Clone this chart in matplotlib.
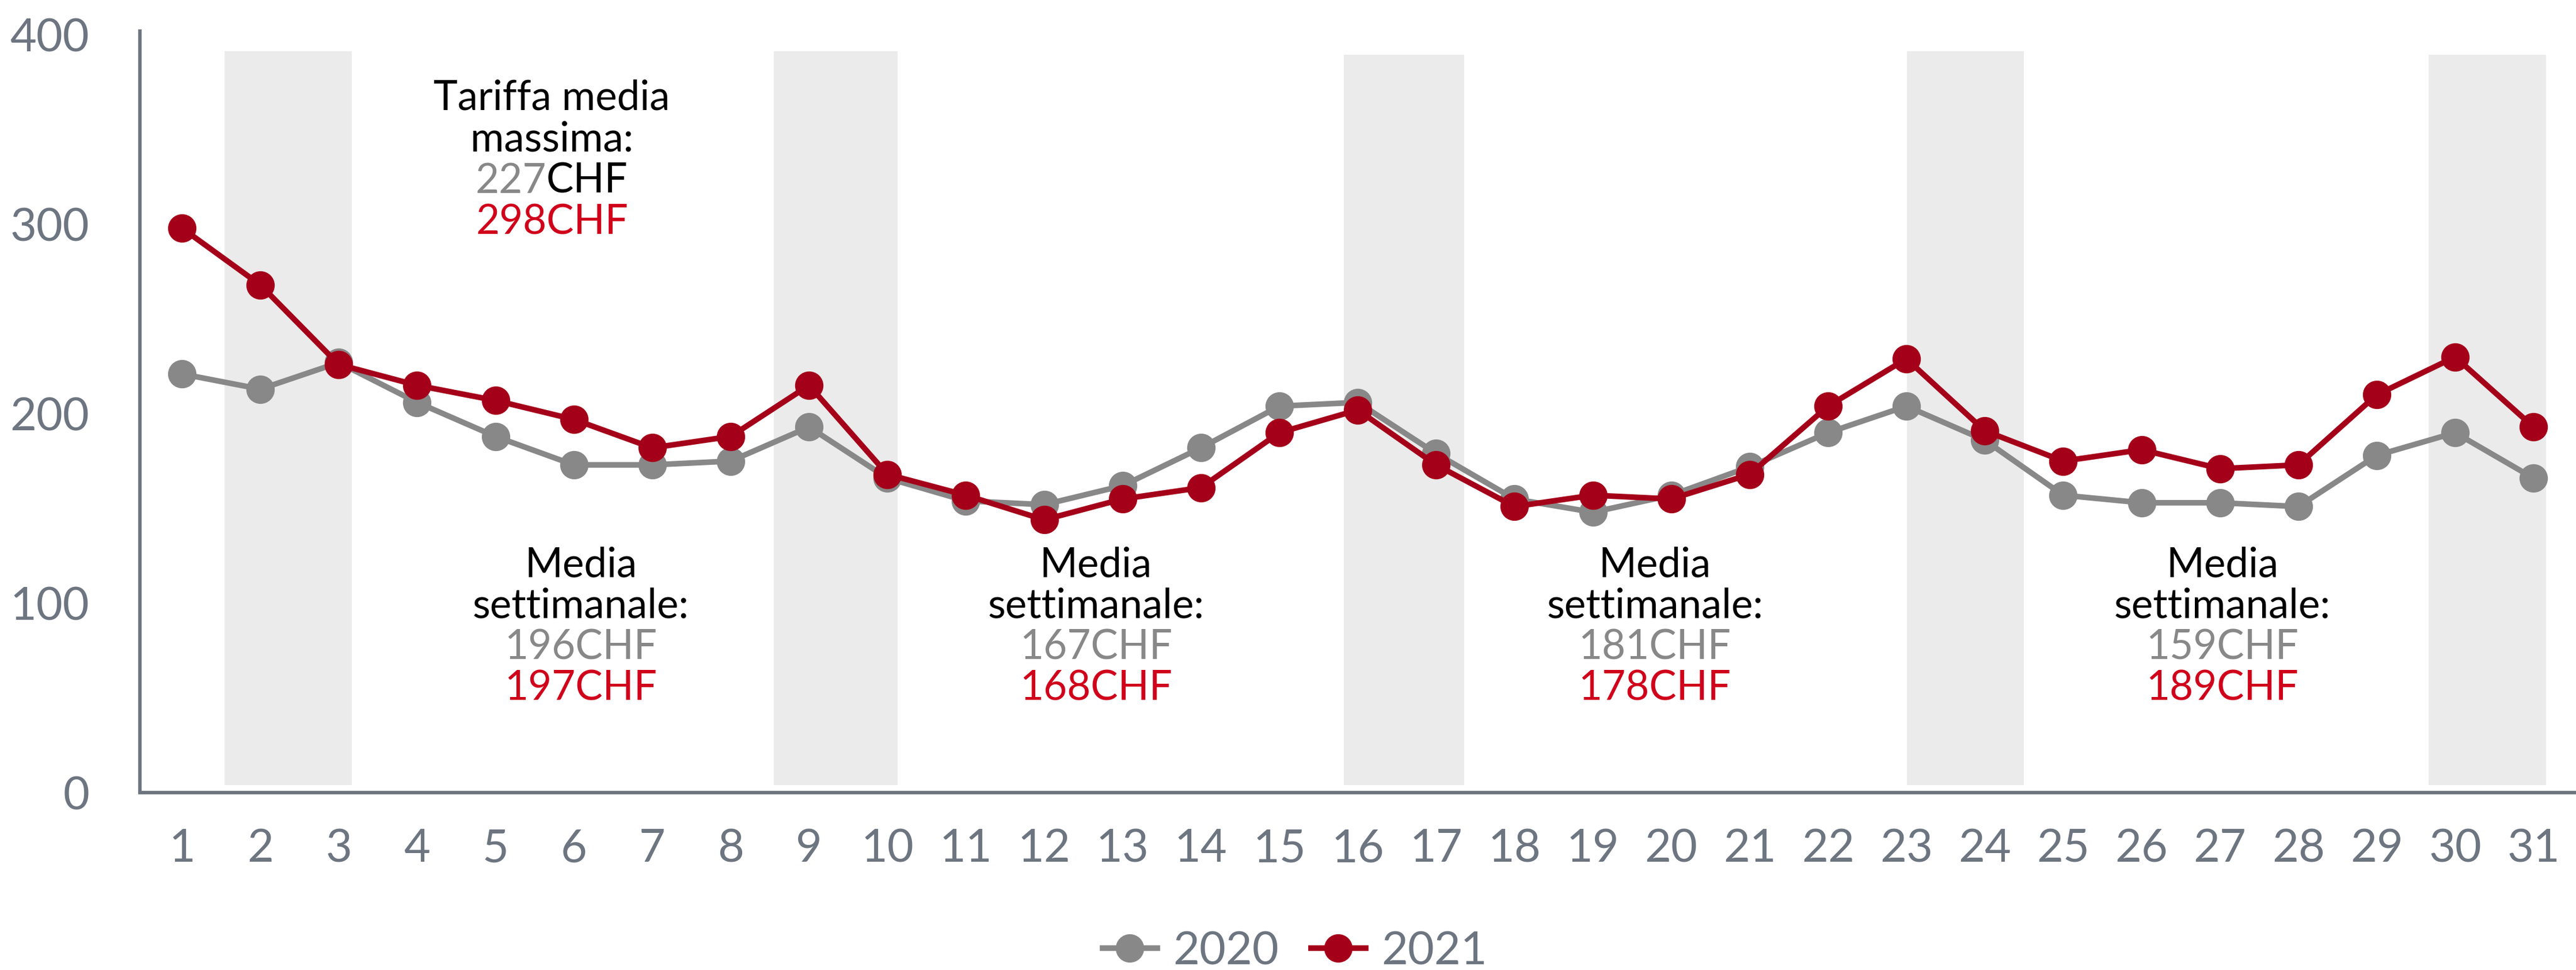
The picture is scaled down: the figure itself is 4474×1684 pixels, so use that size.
import matplotlib.pyplot as plt

plt.rcParams['font.family'] = ['Lato', 'DejaVu Sans']

# dati: tariffa media giornaliera (CHF)
days = list(range(1, 32))
tariffe_2020 = [221, 213, 227, 206, 188, 173, 173, 175, 193, 166, 154, 152, 162, 182, 204, 206,
                179, 155, 148, 157, 172, 190, 204, 186, 157, 153, 153, 151, 178, 190, 166]
tariffe_2021 = [298, 268, 226, 215, 207, 197, 182, 188, 215, 168, 157, 144, 155, 161, 190, 202,
                173, 151, 157, 155, 168, 204, 229, 191, 175, 181, 171, 173, 210, 230, 193]

# fasce weekend
weekend_start = [1.54, 8.55, 15.82, 23.01, 29.66]
weekend_end = [3.17, 10.13, 17.36, 24.50, 31.16]
weekend_top = [391.5, 391.5, 389.6, 391.5, 389.6]

# medie settimanali
medie_x = [6.09, 12.66, 19.79, 27.03]
medie_2020 = ["196", "167", "181", "159"]
medie_2021 = ["197", "168", "178", "189"]
max_2020 = "227"
max_2021 = "298"

GRAY = '#888888'
RED = '#A50019'
RED_TXT = '#D0021B'
AXIS = '#6D7580'

fig = plt.figure(figsize=(44.74, 16.84), dpi=100)
ax = fig.add_axes([242.5 / 4474, 1 - 1376 / 1684, (4471 - 242.5) / 4474, (1376 - 54) / 1684])

centers = [(s + e) / 2 for s, e in zip(weekend_start, weekend_end)]
widths = [e - s for s, e in zip(weekend_start, weekend_end)]
heights = [t - 4 for t in weekend_top]
ax.bar(centers, heights, width=widths, bottom=4, color='#EBEBEB', zorder=0)

ax.plot(days, tariffe_2020, color=GRAY, lw=7, marker='o', ms=34.5, label='2020', zorder=3)
ax.plot(days, tariffe_2021, color=RED, lw=7, marker='o', ms=34.5, label='2021', zorder=4)

ax.set_xlim(0.46, 31.52)
ax.set_ylim(0, 402)
ax.set_xticks(days)
ax.set_yticks([0, 100, 200, 300, 400])
ax.tick_params(axis='x', length=0, pad=45, labelsize=57, labelcolor=AXIS)
ax.tick_params(axis='y', length=0, pad=63, labelsize=57, labelcolor=AXIS)
for side in ['top', 'right']:
    ax.spines[side].set_visible(False)
for side in ['left', 'bottom']:
    ax.spines[side].set_color(AXIS)
    ax.spines[side].set_linewidth(4.3)

# annotazione tariffa massima
fs = 51
tx = 5.72
ax.text(tx, 360.4, "Tariffa media", ha='center', va='baseline', fontsize=fs, color='black')
ax.text(tx, 338.5, "massima:", ha='center', va='baseline', fontsize=fs, color='black')
ax.text(5.65, 316.6, max_2020, ha='right', va='baseline', fontsize=fs, color=GRAY)
ax.text(5.65, 316.6, "CHF", ha='left', va='baseline', fontsize=fs, color='black')
ax.text(tx, 294.8, max_2021 + "CHF", ha='center', va='baseline', fontsize=fs, color=RED_TXT)

# medie settimanali
for x, m20, m21 in zip(medie_x, medie_2020, medie_2021):
    ax.text(x, 113.9, "Media", ha='center', va='baseline', fontsize=fs, color='black')
    ax.text(x, 92.2, "settimanale:", ha='center', va='baseline', fontsize=fs, color='black')
    ax.text(x, 70.3, m20 + "CHF", ha='center', va='baseline', fontsize=fs, color=GRAY)
    ax.text(x, 48.7, m21 + "CHF", ha='center', va='baseline', fontsize=fs, color=RED_TXT)

leg = fig.legend(loc='center', bbox_to_anchor=(0.5027, 0.019), ncol=2, frameon=False,
                 fontsize=57, handlelength=1.2, handletextpad=0.35, columnspacing=0.7,
                 borderpad=0, borderaxespad=0)
for t in leg.get_texts():
    t.set_color(AXIS)

fig.savefig('out.png', dpi=100)
